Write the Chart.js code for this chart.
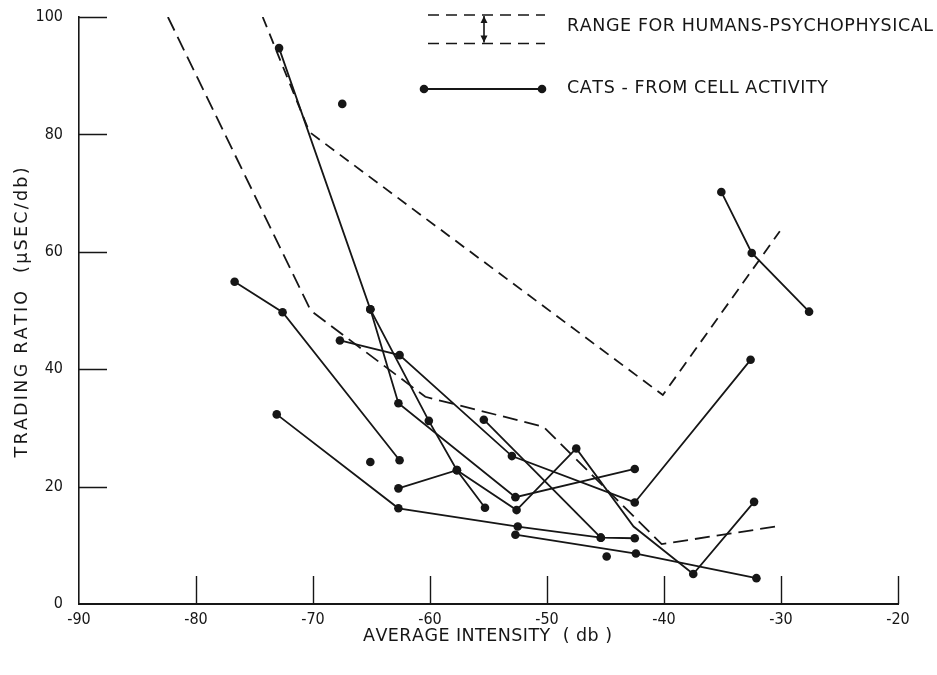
<!DOCTYPE html>
<html>
<head>
<meta charset="utf-8">
<script src="https://cdn.jsdelivr.net/npm/chart.js@4"></script>
<style>
  html, body { margin: 0; padding: 0; background: #fff; }
  #wrap { width: 937px; height: 675px; }
</style>
</head>
<body>
<div id="wrap"><canvas id="chart"></canvas></div>
<script>
const xTicks = [-90, -80, -70, -60, -50, -40, -30, -20];
const yTicks = [0, 20, 40, 60, 80, 100];

// psychophysical range for humans: upper and lower bound
const humanUpper = [[-74.3, 100], [-70.3, 80.4], [-40.1, 35.6], [-30.1, 63.5]];
const humanLower = [[-82.4, 100], [-70.2, 50], [-60.4, 35.3], [-50.3, 30.2], [-40.2, 10.2], [-30.1, 13.3]];

// cats, one curve per cell
const cat1 = [[-72.9, 94.7], [-65.1, 50.2], [-60.1, 31.2], [-57.7, 22.8], [-55.3, 16.4]];
const cat2 = [[-65.1, 50.2], [-62.7, 34.2], [-52.7, 18.2], [-42.5, 23.0]];
const cat3 = [[-67.7, 44.9], [-62.6, 42.4], [-53.0, 25.2], [-42.5, 17.3], [-32.6, 41.6]];
const cat4 = [[-62.7, 19.7], [-57.7, 22.8], [-52.6, 16.0], [-47.5, 26.5], [-42.6, 13.2], [-37.5, 5.1], [-32.3, 17.4]];
const cat4Bend = 4; // kink in the line, no dot there
const cat5 = [[-55.4, 31.4], [-45.4, 11.3]];
const cat6 = [[-76.7, 54.9], [-72.6, 49.7], [-62.6, 24.5]];
const cat7 = [[-73.1, 32.3], [-62.7, 16.3], [-52.5, 13.2], [-45.4, 11.3], [-42.5, 11.2]];
const cat8 = [[-52.7, 11.8], [-42.4, 8.6], [-32.1, 4.4]];
const cat9 = [[-35.1, 70.2], [-32.5, 59.8], [-27.6, 49.8]];
const catSingles = [[-67.5, 85.2], [-65.1, 24.2], [-44.9, 8.1]];

const xTitle = 'AVERAGE INTENSITY  ( db )';
const yTitle = 'TRADING RATIO  (\u03bcSEC/db)';
const keyRange = 'RANGE FOR HUMANS-PSYCHOPHYSICAL';
const keyCats = 'CATS - FROM CELL ACTIVITY';

const INK = '#161616';
const TICK_FONT = '"DejaVu Sans Condensed", "DejaVu Sans", sans-serif';
const TEXT_FONT = '17.5px "DejaVu Sans", sans-serif';

const toXY = arr => arr.map(p => ({ x: p[0], y: p[1] }));

function rangeLine(arr, dash) {
  return {
    data: toXY(arr),
    borderColor: INK,
    borderWidth: 1.8,
    borderDash: dash,
    pointRadius: 0,
    showLine: true,
    fill: false
  };
}

function catLine(arr, radii) {
  return {
    data: toXY(arr),
    borderColor: INK,
    backgroundColor: INK,
    borderWidth: 1.8,
    pointRadius: radii || 4.3,
    pointBorderWidth: 0,
    showLine: true,
    fill: false
  };
}

// draws text letter by letter, spread out to a given total width, centred on cx
function spreadText(ctx, text, cx, cy, width) {
  const chars = [...text];
  const natural = chars.reduce((s, c) => s + ctx.measureText(c).width, 0);
  const gap = chars.length > 1 ? Math.max(0, (width - natural) / (chars.length - 1)) : 0;
  const total = natural + gap * (chars.length - 1);
  let x = cx - total / 2;
  ctx.textAlign = 'left';
  ctx.textBaseline = 'middle';
  chars.forEach(c => {
    ctx.fillText(c, x, cy);
    x += ctx.measureText(c).width + gap;
  });
}

// tick marks point inward, into the plot
const innerTicks = {
  id: 'innerTicks',
  afterDatasetsDraw(chart) {
    const { ctx, chartArea, scales: { x, y } } = chart;
    ctx.save();
    ctx.strokeStyle = INK;
    ctx.lineWidth = 1.4;
    ctx.beginPath();
    xTicks.forEach(v => {
      if (v === xTicks[0]) return;
      const px = Math.round(x.getPixelForValue(v)) + 0.5;
      ctx.moveTo(px, chartArea.bottom);
      ctx.lineTo(px, chartArea.bottom - 28);
    });
    yTicks.forEach(v => {
      if (v === yTicks[0]) return;
      const py = Math.round(y.getPixelForValue(v)) + 0.5;
      ctx.moveTo(chartArea.left, py);
      ctx.lineTo(chartArea.left + 28, py);
    });
    ctx.stroke();
    ctx.restore();
  }
};

// axis titles, widely spaced capitals
const axisTitles = {
  id: 'axisTitles',
  afterDraw(chart) {
    const { ctx, chartArea } = chart;
    ctx.save();
    ctx.fillStyle = INK;
    ctx.font = TEXT_FONT;
    spreadText(ctx, xTitle, (chartArea.left + chartArea.right) / 2 - 1, 636, 249);
    ctx.translate(22, (chartArea.top + chartArea.bottom) / 2 + 2);
    ctx.rotate(-Math.PI / 2);
    spreadText(ctx, yTitle, 0, 0, 290);
    ctx.restore();
  }
};

// key in the top right corner
const keyBox = {
  id: 'keyBox',
  afterDraw(chart) {
    const { ctx } = chart;
    ctx.save();
    ctx.strokeStyle = INK;
    ctx.fillStyle = INK;
    ctx.lineWidth = 1.6;

    // two dashed bounds with a double arrow between them
    ctx.setLineDash([11, 7]);
    ctx.beginPath();
    ctx.moveTo(428, 15); ctx.lineTo(545, 15);
    ctx.moveTo(428, 43.5); ctx.lineTo(545, 43.5);
    ctx.stroke();
    ctx.setLineDash([]);
    ctx.beginPath();
    ctx.moveTo(484, 16); ctx.lineTo(484, 42.5);
    ctx.stroke();
    ctx.beginPath();
    ctx.moveTo(484, 16); ctx.lineTo(480.5, 23); ctx.lineTo(487.5, 23); ctx.closePath();
    ctx.moveTo(484, 42.5); ctx.lineTo(480.5, 35.5); ctx.lineTo(487.5, 35.5); ctx.closePath();
    ctx.fill();

    // solid line with end dots
    ctx.lineWidth = 1.8;
    ctx.beginPath();
    ctx.moveTo(424, 89); ctx.lineTo(542, 89);
    ctx.stroke();
    [424, 542].forEach(px => {
      ctx.beginPath();
      ctx.arc(px, 89, 4.3, 0, Math.PI * 2);
      ctx.fill();
    });

    ctx.font = TEXT_FONT;
    spreadText(ctx, keyRange, 567 + 366 / 2, 26, 366);
    spreadText(ctx, keyCats, 567 + 261 / 2, 88, 261);
    ctx.restore();
  }
};

const tickFont = { family: TICK_FONT, size: 16 };

new Chart(document.getElementById('chart'), {
  type: 'scatter',
  data: {
    datasets: [
      rangeLine(humanUpper, [11, 7]),
      rangeLine(humanLower, [15, 7]),
      catLine(cat1),
      catLine(cat2),
      catLine(cat3),
      catLine(cat4, cat4.map((p, i) => i === cat4Bend ? 0 : 4.3)),
      catLine(cat5),
      catLine(cat6),
      catLine(cat7),
      catLine(cat8),
      catLine(cat9),
      {
        data: toXY(catSingles),
        backgroundColor: INK,
        pointRadius: 4.3,
        pointBorderWidth: 0,
        showLine: false
      }
    ]
  },
  options: {
    responsive: true,
    maintainAspectRatio: false,
    animation: false,
    events: [],
    layout: { padding: { top: 17, right: 39, left: 0, bottom: 0 } },
    plugins: {
      legend: { display: false },
      tooltip: { enabled: false }
    },
    elements: { line: { tension: 0 } },
    scales: {
      x: {
        type: 'linear',
        min: -90,
        max: -20,
        afterBuildTicks: s => { s.ticks = xTicks.map(v => ({ value: v })); },
        afterFit: s => { s.height = 71; },
        grid: { display: false, drawTicks: false },
        border: { display: true, color: INK, width: 2 },
        ticks: { color: INK, font: tickFont, padding: 6 },
        title: { display: false }
      },
      y: {
        min: 0,
        max: 100,
        afterBuildTicks: s => { s.ticks = yTicks.map(v => ({ value: v })); },
        afterFit: s => { s.width = 79; s.paddingTop = 0; s.paddingBottom = 0; },
        grid: { display: false, drawTicks: false },
        border: { display: true, color: INK, width: 1.6 },
        ticks: { color: INK, font: tickFont, padding: 16 },
        title: { display: false }
      }
    }
  },
  plugins: [innerTicks, axisTitles, keyBox]
});
</script>
</body>
</html>
